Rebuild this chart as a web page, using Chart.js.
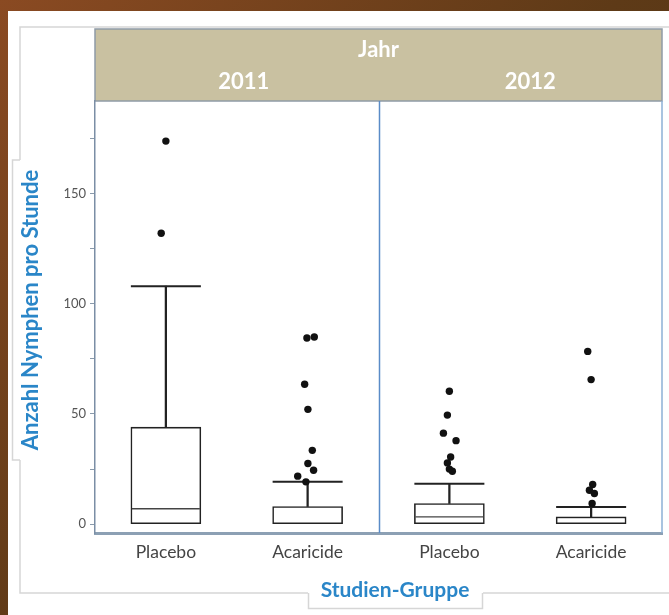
<!DOCTYPE html>
<html>
<head>
<meta charset="utf-8">
<script src="https://cdn.jsdelivr.net/npm/chart.js@4.4.1/dist/chart.umd.min.js"></script>
<style>
  html, body { margin: 0; padding: 0; background: #fff; }
  canvas { display: block; }
</style>
</head>
<body>
<canvas id="c" width="669" height="615"></canvas>
<script>
// Study groups along the x axis, two per year
const groups = ['Placebo', 'Acaricide', 'Placebo', 'Acaricide'];
const years = ['2011', '2012'];
const headerTitle = 'Jahr';
const yTitle = 'Anzahl Nymphen pro Stunde';
const xTitle = 'Studien-Gruppe';

// Box summaries per group (nymphs per hour)
const whiskerLow = [0, 0, 0, 0];
const q1 = [0, 0, 0, 0];
const medians = [7, 0, 3.3, 0];
const q3 = [44, 8, 9.4, 3.3];
const whiskerHigh = [108, 19.3, 18.4, 7.8];

// Outliers per group, with their horizontal jitter (in group units)
const outliers = [
  [173.8, 132],
  [84.5, 84.9, 63.5, 52.1, 33.5, 27.5, 24.5, 21.8, 19.2],
  [60.3, 49.5, 41.3, 37.9, 30.5, 27.8, 25, 24],
  [78.4, 65.6, 18, 15.4, 13.9, 9.4]
];
const outlierJitter = [
  [0, -0.033],
  [-0.005, 0.047, -0.021, 0.002, 0.033, 0.002, 0.042, -0.07, -0.012],
  [0, -0.014, -0.042, 0.047, 0.009, -0.014, 0, 0.021],
  [-0.024, 0, 0.011, -0.012, 0.023, 0.007]
];

const yTicks = [0, 25, 50, 75, 100, 125, 150, 175];
const yLabelStep = 50;

const FONT = 'Lato, "Open Sans", sans-serif';
const INK = '#222';
const BLUE_TITLE = '#2a86c8';

const pos = i => i + 1;

const upperWhiskers = groups.map((g, i) => ({ x: pos(i), y: [q3[i], whiskerHigh[i]] }));
const lowerWhiskers = groups.map((g, i) => ({ x: pos(i), y: [whiskerLow[i], q1[i]] }))
  .filter((d, i) => whiskerLow[i] < q1[i]);
const boxes = groups.map((g, i) => ({ x: pos(i), y: [q1[i], q3[i]] }));
const caps = groups.map((g, i) => ({ x: pos(i), y: whiskerHigh[i] }))
  .concat(groups.map((g, i) => ({ x: pos(i), y: whiskerLow[i] })).filter((d, i) => whiskerLow[i] < q1[i]));
const medianMarks = groups.map((g, i) => ({ x: pos(i), y: medians[i] }))
  .filter((d, i) => medians[i] > q1[i]);
const outlierPoints = [];
outliers.forEach((vals, i) => vals.forEach((v, k) => {
  outlierPoints.push({ x: pos(i) + outlierJitter[i][k], y: v });
}));

// Page frame, panel header, tabs and titles
const framePlugin = {
  id: 'frame',
  beforeDraw(chart) {
    const { ctx, chartArea: a } = chart;
    const W = chart.width, H = chart.height;
    ctx.save();
    const g = ctx.createLinearGradient(0, 0, W, H);
    g.addColorStop(0, '#8a4a22');
    g.addColorStop(0.5, '#5e3a17');
    g.addColorStop(1, '#4a3213');
    ctx.fillStyle = g;
    ctx.fillRect(0, 0, W, H);
    ctx.fillStyle = '#fff';
    ctx.fillRect(8, 11, W - 8, H - 11);

    // inner panel outline
    ctx.strokeStyle = '#d6d6d6';
    ctx.lineWidth = 1.5;
    ctx.strokeRect(20, 27, W + 10, 593 - 27);

    // tab behind the y title
    ctx.fillStyle = '#fff';
    ctx.fillRect(12, 160, 10, 300);
    ctx.beginPath();
    ctx.moveTo(20, 160); ctx.lineTo(12.5, 160); ctx.lineTo(12.5, 460); ctx.lineTo(20, 460);
    ctx.stroke();

    // tab behind the x title
    ctx.fillRect(308, 591, 175, 17);
    ctx.beginPath();
    ctx.moveTo(308.5, 593); ctx.lineTo(308.5, 608.5); ctx.lineTo(482.5, 608.5); ctx.lineTo(482.5, 593);
    ctx.stroke();

    // header band over both panels
    ctx.fillStyle = '#c9c1a1';
    ctx.fillRect(a.left, 29, a.right - a.left, a.top - 29);
    ctx.strokeStyle = '#8f9ba6';
    ctx.lineWidth = 1.5;
    ctx.strokeRect(a.left, 29, a.right - a.left, a.top - 29);
    ctx.restore();
  },
  beforeDatasetsDraw(chart) {
    const { ctx, chartArea: a, scales: { x } } = chart;
    ctx.save();
    ctx.lineWidth = 1.5;
    ctx.strokeStyle = '#5a8cc8';
    const xd = Math.round(x.getPixelForValue(2.5)) + 0.5;
    ctx.beginPath(); ctx.moveTo(xd, a.top); ctx.lineTo(xd, a.bottom); ctx.stroke();
    ctx.strokeStyle = '#8db0d6';
    ctx.beginPath(); ctx.moveTo(a.right, a.top); ctx.lineTo(a.right, a.bottom); ctx.stroke();
    ctx.restore();
  },
  afterDraw(chart) {
    const { ctx, chartArea: a, scales: { x } } = chart;
    ctx.save();
    ctx.fillStyle = '#fff';
    ctx.textAlign = 'center';
    ctx.textBaseline = 'middle';
    ctx.font = 'bold 22px ' + FONT;
    ctx.fillText(headerTitle, (a.left + a.right) / 2, 50);
    ctx.fillText(years[0], (x.getPixelForValue(0.5) + x.getPixelForValue(2.5)) / 2 + 7, 82);
    ctx.fillText(years[1], (x.getPixelForValue(2.5) + x.getPixelForValue(4.5)) / 2 + 10, 82);

    ctx.fillStyle = BLUE_TITLE;
    ctx.font = 'bold 21px ' + FONT;
    ctx.fillText(xTitle, 395, 590);
    ctx.font = 'bold 22px ' + FONT;
    ctx.translate(31, 310);
    ctx.rotate(-Math.PI / 2);
    ctx.fillText(yTitle, 0, 0);
    ctx.restore();
  }
};

new Chart(document.getElementById('c'), {
  type: 'bar',
  data: {
    datasets: [
      {
        type: 'scatter', data: outlierPoints, order: 0,
        pointRadius: 3.7, pointBackgroundColor: '#111', pointBorderWidth: 0
      },
      {
        type: 'scatter', data: medianMarks, order: 1,
        pointStyle: 'line', pointRadius: 34, pointBorderColor: '#444', pointBorderWidth: 1.3
      },
      {
        type: 'scatter', data: caps, order: 1,
        pointStyle: 'line', pointRadius: 35, pointBorderColor: INK, pointBorderWidth: 2
      },
      {
        type: 'bar', data: boxes, order: 2, grouped: false,
        barThickness: 70, backgroundColor: '#fff', borderColor: INK,
        borderWidth: 1.6, borderSkipped: false
      },
      {
        type: 'bar', data: upperWhiskers.concat(lowerWhiskers), order: 3, grouped: false,
        barThickness: 1.6, backgroundColor: INK, borderWidth: 0
      }
    ]
  },
  options: {
    responsive: false,
    animation: false,
    devicePixelRatio: 1,
    events: [],
    layout: { autoPadding: false, padding: { left: 0, top: 101, right: 7, bottom: 0 } },
    plugins: { legend: { display: false }, tooltip: { enabled: false } },
    scales: {
      x: {
        type: 'linear', min: 0.5, max: 4.5, offset: false,
        afterFit: s => { s.height = 82; s.paddingLeft = 0; s.paddingRight = 0; },
        afterBuildTicks: s => { s.ticks = groups.map((g, i) => ({ value: pos(i) })); },
        ticks: {
          autoSkip: false, maxRotation: 0, padding: 9,
          color: '#444', font: { family: FONT, size: 17.5 },
          callback: v => groups[Math.round(v) - 1]
        },
        grid: { display: false, drawTicks: false },
        border: { display: true, color: '#8ca0b4', width: 3 }
      },
      y: {
        type: 'linear', min: -4, max: 192,
        afterFit: s => { s.width = 95; s.paddingTop = 0; s.paddingBottom = 0; },
        afterBuildTicks: s => { s.ticks = yTicks.map(v => ({ value: v })); },
        ticks: {
          autoSkip: false, padding: 4,
          color: '#555', font: { family: FONT, size: 13 },
          callback: v => (v % yLabelStep === 0 ? String(v) : '')
        },
        grid: { display: true, drawOnChartArea: false, drawTicks: true, tickLength: 5, color: '#8a9aab', lineWidth: 1 },
        border: { display: true, color: '#7b8ea5', width: 1.5 }
      }
    }
  },
  plugins: [framePlugin]
});
</script>
</body>
</html>
